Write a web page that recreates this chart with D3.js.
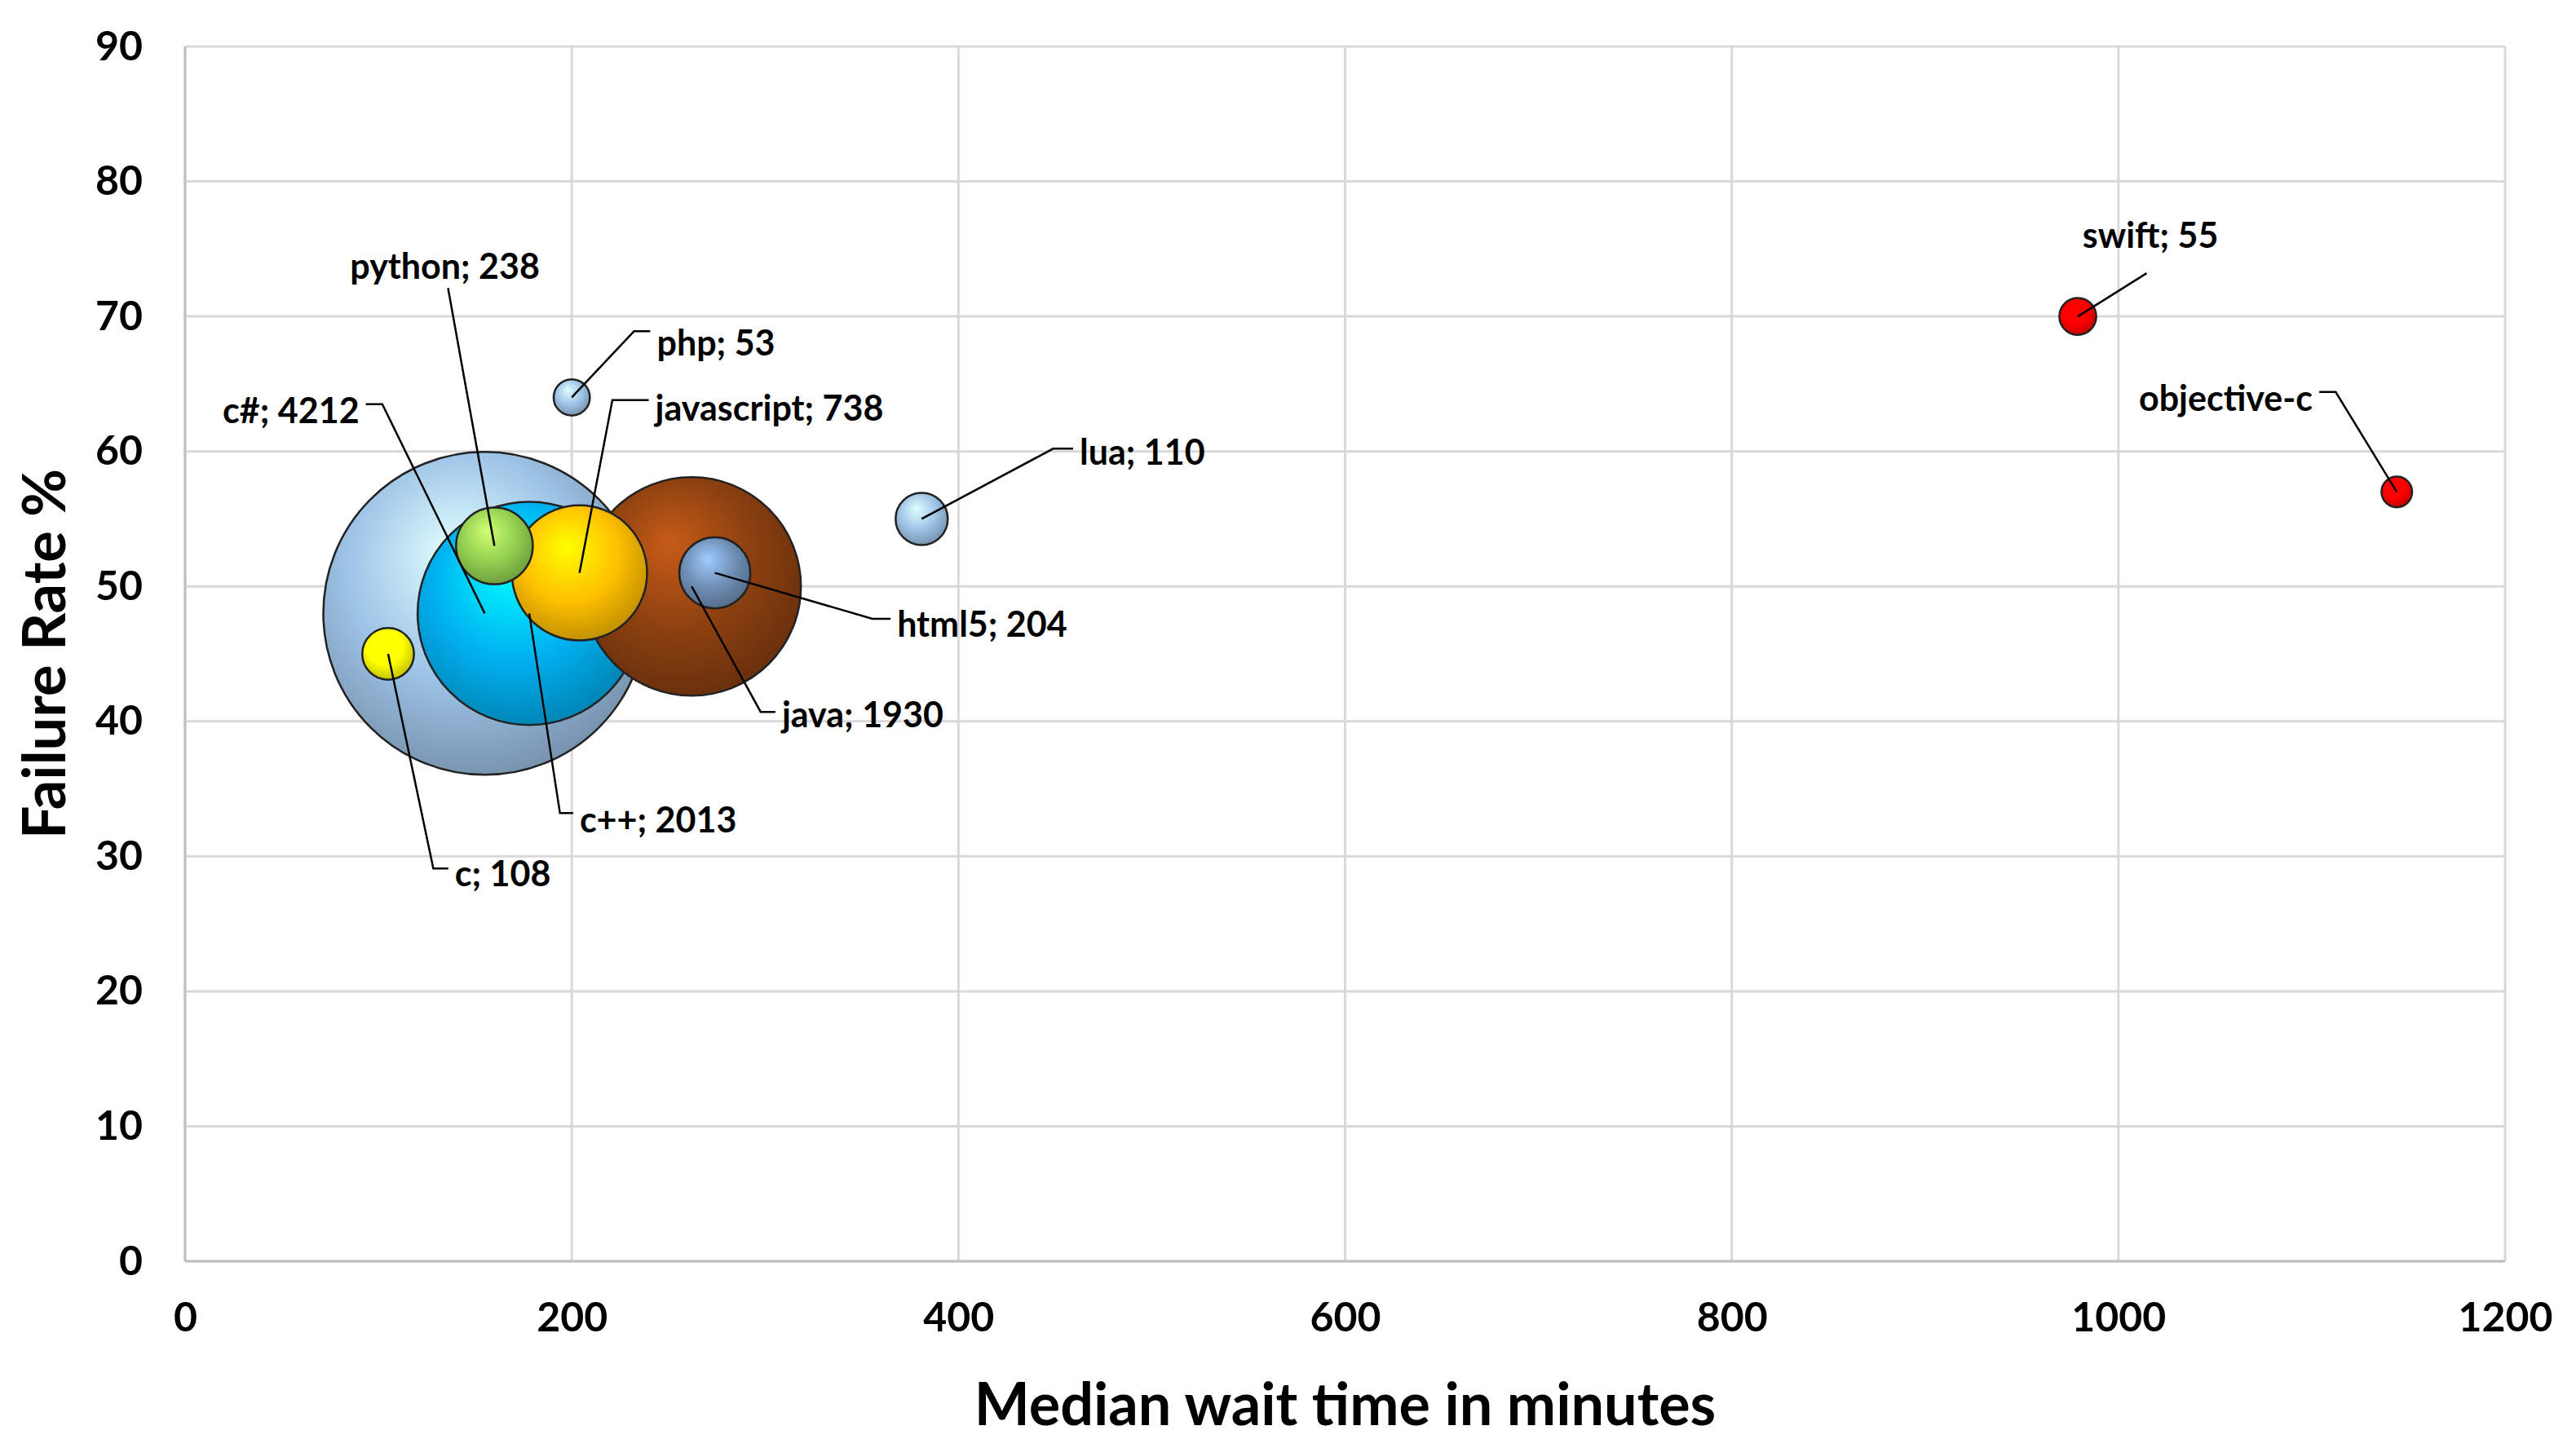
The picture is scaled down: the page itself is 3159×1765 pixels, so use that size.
<!DOCTYPE html>
<html><head><meta charset="utf-8">
<script src="https://cdn.jsdelivr.net/npm/d3@7"></script>
<style>body{margin:0;background:#fff}text{font-family:Lato,"Open Sans",sans-serif;font-weight:bold}</style>
</head><body>
<svg id="c" width="3159" height="1765"></svg>
<script>
const names  = ["c#","c++","java","javascript","python","html5","lua","c","php","swift","objective-c"];
const xs     = [155,178,262,204,160,274,381,105,200,979,1144];
const ys     = [48,48,50,51,53,51,55,45,64,70,57];
const sizes  = [4212,2013,1930,738,238,204,110,108,53,55,38];
const labels = ["c#; 4212","c++; 2013","java; 1930","javascript; 738","python; 238","html5; 204","lua; 110","c; 108","php; 53","swift; 55","objective-c"];
const colors = ["#9DC3E6","#00B0F0","#8B4010","#FFC000","#92D050","#6F8FB5","#9DC3E6","#FFFF00","#9DC3E6","#FF0000","#FF0000"];
// label placement in data units: text x, text y, anchor, elbow x, elbow y, stub flag
const labTx = [90.1,204.1,308.7,243.2,134.4,368.3,462.7,139.5,244,981.4,1100.5];
const labTy = [63.0,32.7,40.5,63.2,73.7,47.2,59.9,28.7,68.0,76.0,63.9];
const labAn = ["end","start","start","start","middle","start","start","start","start","start","end"];
const labEx = [102,193.9,297.7,221,136,355.5,449,128.4,232.2,1014.6,1112.4];
const labEy = [63.5,33.2,40.7,63.8,72.1,47.6,60.2,29.1,68.9,73.2,64.4];
const labStub = [1,1,1,1,0,1,1,1,1,0,1];
const xTicks = [0,200,400,600,800,1000,1200];
const yTicks = [0,10,20,30,40,50,60,70,80,90];

const svg = d3.select("#c");
const x = d3.scaleLinear().domain([0,1200]).range([227,3072]);
const y = d3.scaleLinear().domain([0,90]).range([1547,57]);
const r = d3.scaleSqrt().domain([0,4212]).range([0,198]);

const g = svg.append("g");
g.selectAll(".gx").data(xTicks).join("line").attr("x1",d=>x(d)).attr("x2",d=>x(d)).attr("y1",y(0)).attr("y2",y(90)).attr("stroke","#d9d9d9").attr("stroke-width",3);
g.selectAll(".gy").data(yTicks).join("line").attr("y1",d=>y(d)).attr("y2",d=>y(d)).attr("x1",x(0)).attr("x2",x(1200)).attr("stroke","#d9d9d9").attr("stroke-width",3);
g.append("line").attr("x1",x(0)).attr("x2",x(1200)).attr("y1",y(0)).attr("y2",y(0)).attr("stroke","#bfbfbf").attr("stroke-width",3);
g.append("line").attr("x1",x(0)).attr("x2",x(0)).attr("y1",y(0)).attr("y2",y(90)).attr("stroke","#bfbfbf").attr("stroke-width",3);

const xa = svg.append("g").attr("transform",`translate(0,${y(0)})`).call(d3.axisBottom(x).tickValues(xTicks).tickFormat(d3.format("d")).tickSize(0).tickPadding(50));
const ya = svg.append("g").attr("transform",`translate(${x(0)},0)`).call(d3.axisLeft(y).tickValues(yTicks).tickFormat(d3.format("d")).tickSize(0).tickPadding(52));
[xa,ya].forEach(a=>{a.select(".domain").remove();a.selectAll("text").attr("font-size",50).attr("font-family","Lato").attr("font-weight","bold").attr("fill","#000");});
svg.append("text").attr("x",(x(0)+x(1200))/2).attr("y",1748).attr("text-anchor","middle").attr("font-size",72).text("Median wait time in minutes");
svg.append("text").attr("transform",`translate(80,${(y(0)+y(90))/2}) rotate(-90)`).attr("text-anchor","middle").attr("font-size",72).text("Failure Rate %");

const defs = svg.append("defs");
const idx = d3.range(names.length).sort((a,b)=>sizes[b]-sizes[a]);
idx.forEach(i=>{
  const c = d3.color(colors[i]);
  const gr = defs.append("radialGradient").attr("id","g"+i).attr("cx","45%").attr("cy","40%").attr("r","65%").attr("fx","40%").attr("fy","30%");
  gr.append("stop").attr("offset","0%").attr("stop-color",c.brighter(1.0));
  gr.append("stop").attr("offset","55%").attr("stop-color",c);
  gr.append("stop").attr("offset","100%").attr("stop-color",c.darker(0.9));
});
svg.append("g").selectAll("circle").data(idx).join("circle")
  .attr("cx",i=>x(xs[i])).attr("cy",i=>y(ys[i])).attr("r",i=>r(sizes[i]))
  .attr("fill",i=>`url(#g${i})`).attr("stroke","#222").attr("stroke-width",2.5);

const lg = svg.append("g");
names.forEach((n,i)=>{
  const cx=x(xs[i]), cy=y(ys[i]), ex=x(labEx[i]), ey=y(labEy[i]);
  const pts=[[cx,cy],[ex,ey]];
  if(labStub[i]&&labAn[i]==="start") pts.push([x(labTx[i])-8,ey]);
  else if(labStub[i]&&labAn[i]==="end") pts.push([x(labTx[i])+8,ey]);
  lg.append("path").attr("d",d3.line()(pts)).attr("fill","none").attr("stroke","#000").attr("stroke-width",2.5);
  lg.append("text").attr("x",x(labTx[i])).attr("y",y(labTy[i])).attr("dy","0.35em").attr("text-anchor",labAn[i]).attr("font-size",43).text(labels[i]);
});
</script></body></html>
